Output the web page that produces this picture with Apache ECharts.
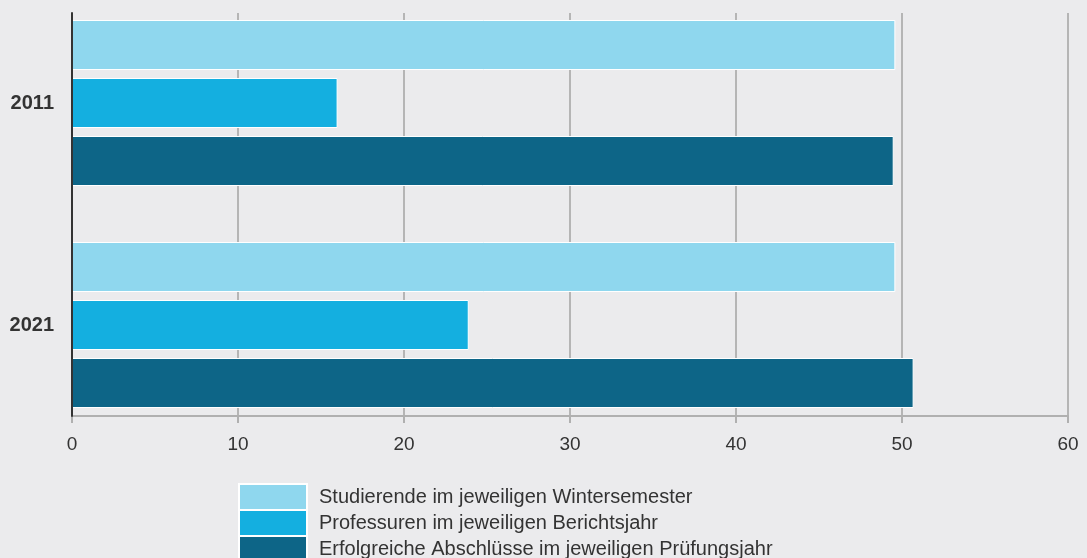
<!DOCTYPE html>
<html>
<head>
<meta charset="utf-8">
<script src="https://cdn.jsdelivr.net/npm/echarts@6/dist/echarts.min.js"></script>
<style>
  html, body { margin: 0; padding: 0; background: #ebebed; }
  #chart { width: 1087px; height: 558px; }
</style>
</head>
<body>
<div id="chart"></div>
<script>
  // Jahre (Kategorien)
  var years = ['2011', '2021']
  var seriesNames = [
    'Studierende im jeweiligen Wintersemester',
    'Professuren im jeweiligen Berichtsjahr',
    'Erfolgreiche Abschlüsse im jeweiligen Prüfungsjahr'
  ]
  var studierende = [49.6, 49.6]
  var professuren = [16.0, 23.9]
  var abschluesse = [49.5, 50.7]
  var xTicks = [0, 10, 20, 30, 40, 50, 60]

  var colors = ['#8fd7ee', '#14afe0', '#0d6587']
  var font = 'Liberation Sans, Arial, sans-serif'

  var chart = echarts.init(document.getElementById('chart'))

  function barSeries(name, data, color) {
    return {
      name: name,
      type: 'bar',
      xAxisIndex: 1,
      yAxisIndex: 1,
      data: data,
      barWidth: 50,
      barGap: '16%',
      clip: false,
      itemStyle: { color: color, borderColor: '#ffffff', borderWidth: 1 },
      silent: true
    }
  }

  // eine Legende pro Reihe, untereinander ohne Abstand
  function legendItem(name, top) {
    return {
      orient: 'vertical',
      left: 238,
      top: top,
      padding: 0,
      itemWidth: 68,
      itemHeight: 26,
      itemGap: 0,
      icon: 'rect',
      textStyle: { fontSize: 20, color: '#333333', fontFamily: font, padding: [0, 0, 0, 7] },
      data: [name]
    }
  }

  chart.setOption({
    backgroundColor: '#ebebed',
    animation: false,
    textStyle: { fontFamily: font },
    legend: [
      legendItem(seriesNames[0], 483),
      legendItem(seriesNames[1], 509),
      legendItem(seriesNames[2], 535)
    ],
    grid: [
      // sichtbare Achsen + Gitterlinien
      { left: 72, right: 19, top: 13, height: 403 },
      // Balken: Kategorien auf den Achsenenden (Mitte der Gruppen)
      { left: 72, right: 19, top: 103, height: 222 }
    ],
    xAxis: [{
      gridIndex: 0,
      type: 'value',
      min: xTicks[0],
      max: xTicks[xTicks.length - 1],
      interval: 10,
      axisLine: { show: true, lineStyle: { color: '#b0b0b0', width: 2 } },
      axisTick: { show: true, length: 7, lineStyle: { color: '#b0b0b0', width: 2 } },
      axisLabel: { fontSize: 19, color: '#333333', margin: 19, fontFamily: font },
      splitLine: { show: true, lineStyle: { color: '#b5b5b5', width: 2 } }
    }, {
      gridIndex: 1,
      type: 'value',
      min: xTicks[0],
      max: xTicks[xTicks.length - 1],
      show: false
    }],
    yAxis: [{
      gridIndex: 0,
      type: 'category',
      data: years,
      inverse: true,
      axisLine: { show: true, lineStyle: { color: '#333333', width: 2 } },
      axisTick: { show: false },
      axisLabel: { show: false },
      z: 5
    }, {
      gridIndex: 1,
      type: 'category',
      data: years,
      inverse: true,
      boundaryGap: false,
      axisLine: { show: false },
      axisTick: { show: false },
      splitLine: { show: false },
      axisLabel: { fontSize: 20, fontWeight: 'bold', color: '#333333', margin: 18, fontFamily: font }
    }],
    series: [
      barSeries(seriesNames[0], studierende, colors[0]),
      barSeries(seriesNames[1], professuren, colors[1]),
      barSeries(seriesNames[2], abschluesse, colors[2])
    ]
  })
</script>
</body>
</html>
